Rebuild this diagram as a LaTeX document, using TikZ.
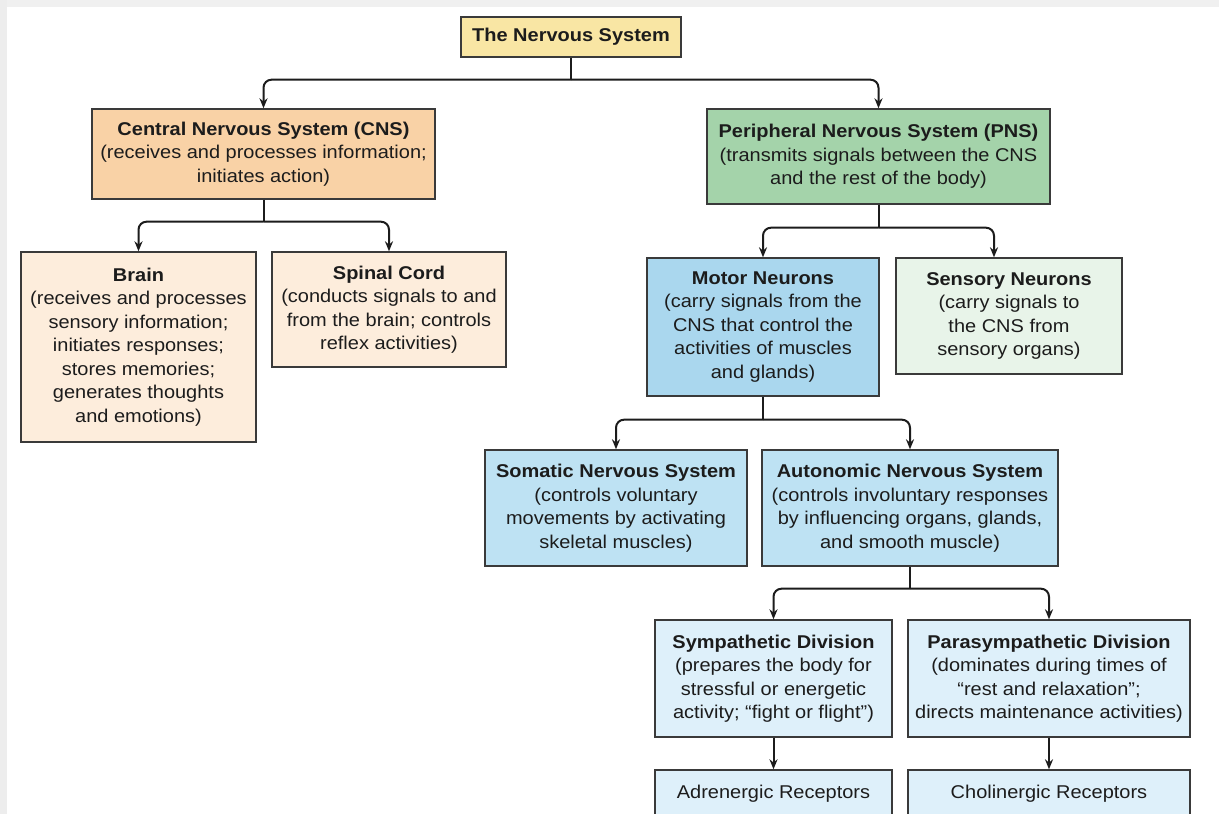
\documentclass[tikz,border=0pt]{standalone}
\usepackage{fontspec}
\setmainfont{Liberation Sans}[FakeStretch=1.08]
\usetikzlibrary{calc,arrows.meta}
\definecolor{yel}{HTML}{F9E6A4}
\definecolor{cnsc}{HTML}{F9D2A6}
\definecolor{pnsc}{HTML}{A4D3AA}
\definecolor{peach}{HTML}{FDEDDC}
\definecolor{motc}{HTML}{AAD7EE}
\definecolor{senc}{HTML}{E8F4E9}
\definecolor{midb}{HTML}{BEE2F3}
\definecolor{ltb}{HTML}{DEF0FA}
\definecolor{edge}{HTML}{3A3A3A}
\definecolor{ink}{HTML}{1C1C1C}
\tikzset{
  box/.style={draw=edge, line width=1.4pt, align=center, inner sep=0pt, text=ink,
    font=\fontsize{18.5}{23.5}\selectfont},
  link/.style={draw=ink, line width=2pt, rounded corners=8pt},
  arrow/.style={link, -{Stealth[length=10pt,width=8pt]}}
}
\begin{document}
\begin{tikzpicture}[x=1pt,y=-1pt]
\useasboundingbox (0,0) rectangle (1219,814);
\fill[white] (0,0) rectangle (1219,814);
\fill[gray!12] (0,0) rectangle (1219,7);
\fill[gray!14] (0,0) rectangle (7,814);

\node[box, fill=yel, minimum width=220, minimum height=40] (top) at (571,37) {\textbf{The Nervous System}};
\node[box, fill=cnsc, minimum width=343, minimum height=90] (cns) at (263.5,154)
  {\textbf{Central Nervous System (CNS)}\\(receives and processes information;\\initiates action)};
\node[box, fill=pnsc, minimum width=343, minimum height=95] (pns) at (878.5,156.5)
  {\textbf{Peripheral Nervous System (PNS)}\\(transmits signals between the CNS\\and the rest of the body)};
\node[box, fill=peach, minimum width=235, minimum height=190] (brain) at (138.5,347)
  {\textbf{Brain}\\(receives and processes\\sensory information;\\initiates responses;\\stores memories;\\generates thoughts\\and emotions)};
\node[box, fill=peach, minimum width=234, minimum height=115] (spinal) at (389,309.5)
  {\textbf{Spinal Cord}\\(conducts signals to and\\from the brain; controls\\reflex activities)};
\node[box, fill=motc, minimum width=232, minimum height=138] (motor) at (763,327)
  {\textbf{Motor Neurons}\\(carry signals from the\\CNS that control the\\activities of muscles\\and glands)};
\node[box, fill=senc, minimum width=226, minimum height=116] (sens) at (1009,316)
  {\textbf{Sensory Neurons}\\(carry signals to\\the CNS from\\sensory organs)};
\node[box, fill=midb, minimum width=262, minimum height=116] (som) at (616,508)
  {\textbf{Somatic Nervous System}\\(controls voluntary\\movements by activating\\skeletal muscles)};
\node[box, fill=midb, minimum width=296, minimum height=116] (aut) at (910,508)
  {\textbf{Autonomic Nervous System}\\(controls involuntary responses\\by influencing organs, glands,\\and smooth muscle)};
\node[box, fill=ltb, minimum width=237, minimum height=117] (sym) at (773.5,678.5)
  {\textbf{Sympathetic Division}\\(prepares the body for\\stressful or energetic\\activity; “fight or flight”)};
\node[box, fill=ltb, minimum width=282, minimum height=117] (para) at (1049,678.5)
  {\textbf{Parasympathetic Division}\\(dominates during times of\\“rest and relaxation”;\\directs maintenance activities)};
\node[box, fill=ltb, minimum width=237, minimum height=48] (adr) at (773.5,794) {Adrenergic Receptors};
\node[box, fill=ltb, minimum width=282, minimum height=48] (cho) at (1049,794) {Cholinergic Receptors};

\coordinate (j0) at ($(top.south)+(0,22)$);
\coordinate (j1) at ($(cns.south)+(0,22)$);
\coordinate (j2) at ($(pns.south)+(0,23)$);
\coordinate (j3) at ($(motor.south)+(0,23)$);
\coordinate (j4) at ($(aut.south)+(0,22)$);

\draw[link] (top.south) -- (j0);
\draw[arrow] (j0) -| (cns.north);
\draw[arrow] (j0) -| (pns.north);
\draw[link] (cns.south) -- (j1);
\draw[arrow] (j1) -| (brain.north);
\draw[arrow] (j1) -| (spinal.north);
\draw[link] (pns.south) -- (j2);
\draw[arrow] (j2) -| (motor.north);
\draw[arrow] (j2) -| ($(sens.north)+(-15,0)$);
\draw[link] (motor.south) -- (j3);
\draw[arrow] (j3) -| (som.north);
\draw[arrow] (j3) -| (aut.north);
\draw[link] (aut.south) -- (j4);
\draw[arrow] (j4) -| (sym.north);
\draw[arrow] (j4) -| (para.north);
\draw[arrow] (sym.south) -- (adr.north);
\draw[arrow] (para.south) -- (cho.north);
\end{tikzpicture}
\end{document}
